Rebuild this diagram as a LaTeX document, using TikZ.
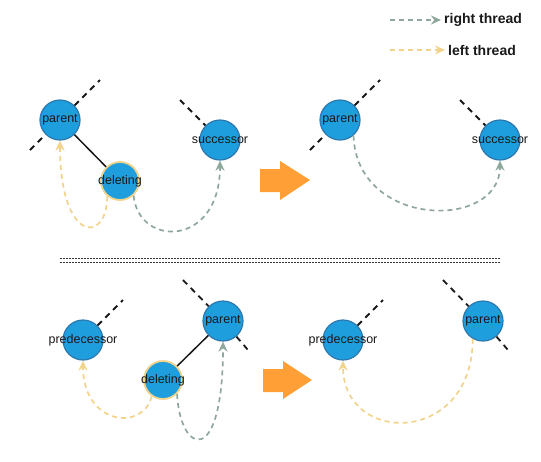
\documentclass[tikz,border=0pt]{standalone}
\usepackage{fontspec}
\setmainfont{Liberation Sans}
\usetikzlibrary{arrows.meta}
\definecolor{nodeblue}{HTML}{1F9EDD}
\definecolor{nodeedge}{HTML}{2C78AE}
\definecolor{rthread}{HTML}{8FA89B}
\definecolor{lthread}{HTML}{F2D38C}
\definecolor{bigorange}{HTML}{FF9F35}
\tikzset{
  txt/.style={font=\fontsize{12.5}{14}\selectfont,text=black!90,inner sep=0pt},
  tree/.style={circle,minimum size=40pt,inner sep=0pt,fill=nodeblue,draw=nodeedge,line width=1.2pt,label={[txt]center:#1}},
  del/.style={tree=#1,minimum size=38pt,draw=lthread,line width=1.8pt},
  link/.style={dash pattern=on 6pt off 5pt,line width=1.8pt,black!90},
  rt/.style={-{Stealth[length=10pt,width=9pt]},rthread,line width=1.7pt,dash pattern=on 5pt off 4pt},
  lt/.style={rt,lthread},
  legend/.style={anchor=west,inner sep=3pt,font=\fontsize{14}{16}\selectfont\bfseries,text=black!90},
  bigarrow/.style={fill=bigorange}
}
\begin{document}
\begin{tikzpicture}[x=1pt,y=-1pt]
\useasboundingbox (0,0) rectangle (541,461);
\node (rtxt) [legend] at (441,20) {right thread};
\node (ltxt) [legend] at (445,50) {left thread};
\coordinate (r0) at (390,20);
\coordinate (l0) at (390,50);
\draw[rt] (r0) -- (rtxt.west);
\draw[lt] (l0) -- (ltxt.west);
\node (p1) [tree=parent] at (60,120) {};
\node (d1) [del=deleting] at (120,181) {};
\node (s1) [tree=successor] at (220,140) {};
\coordinate (p1a) at (30,150);
\coordinate (p1b) at (100,80);
\coordinate (s1a) at (180,100);
\draw[link] (p1a) -- (p1);
\draw[link] (p1) -- (p1b);
\draw[link] (s1a) -- (s1);
\draw[line width=1.5pt,black!90] (p1) -- (d1);
\draw[lt] (d1.230) .. controls +(0,48) and +(0,103) .. (p1.south);
\draw[rt] (d1.313) .. controls +(5,52) and +(0,87) .. (s1.south);
\fill[bigarrow] (260,169) -- ++(20,0) -- ++(0,-8) -- ++(30,19) -- ++(-30,20) -- ++(0,-8) -- ++(-20,0) -- cycle;
\node (p2) [tree=parent] at (340,120) {};
\node (s2) [tree=successor] at (500,140) {};
\coordinate (p2a) at (310,150);
\coordinate (p2b) at (380,80);
\coordinate (s2a) at (460,100);
\draw[link] (p2a) -- (p2);
\draw[link] (p2) -- (p2b);
\draw[link] (s2a) -- (s2);
\draw[rt] (p2.311) .. controls +(3,93) and +(0,70) .. (s2.south);
\begin{scope}[black!80,line width=0.7pt,dash pattern=on 2pt off 1pt]
\draw (60,258) -- (500,258);
\draw (60,262) -- (500,262);
\end{scope}
\node (pr3) [tree=predecessor] at (83,340) {};
\node (p3) [tree=parent] at (223,321) {};
\node (d3) [del=deleting] at (163,380) {};
\coordinate (pr3a) at (123,300);
\coordinate (p3a) at (183,280);
\coordinate (p3b) at (248,350);
\draw[link] (pr3) -- (pr3a);
\draw[link] (p3a) -- (p3);
\draw[link] (p3) -- (p3b);
\draw[line width=1.5pt,black!90] (p3) -- (d3);
\draw[lt] (d3.235) .. controls +(-8,35) and +(0,65) .. (pr3.south);
\draw[rt] (d3.315) .. controls +(3,60) and +(0,128) .. (p3.south);
\fill[bigarrow] (263,369) -- ++(20,0) -- ++(0,-8) -- ++(29,19) -- ++(-29,19) -- ++(0,-7) -- ++(-20,0) -- cycle;
\node (pr4) [tree=predecessor] at (343,340) {};
\node (p4) [tree=parent] at (483,321) {};
\coordinate (pr4a) at (383,300);
\coordinate (p4a) at (443,280);
\coordinate (p4b) at (508,350);
\draw[link] (pr4) -- (pr4a);
\draw[link] (p4a) -- (p4);
\draw[link] (p4) -- (p4b);
\draw[lt] (p4.240) .. controls +(0,107) and +(0,85) .. (pr4.south);
\end{tikzpicture}
\end{document}
